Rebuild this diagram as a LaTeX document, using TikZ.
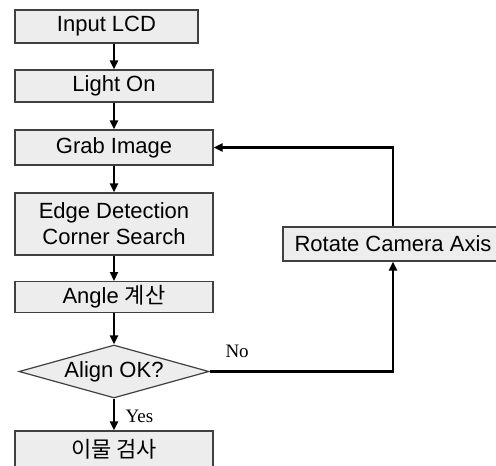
\documentclass[tikz,border=0pt]{standalone}
\usepackage{fontspec}
\setmainfont{Liberation Sans}
\newfontfamily\korfont{Noto Sans CJK KR}
\newfontfamily\yesnofont{Liberation Serif}
\usetikzlibrary{positioning, arrows.meta, shapes.geometric}

\begin{document}
\begin{tikzpicture}[
		x=0.5pt, y=-0.5pt,
		box/.style={draw=black!75,line width=0.6pt,fill=black!7,inner sep=2pt,
			minimum width=99pt,align=center,font=\fontsize{11}{13}\selectfont},
		decision/.style={diamond,draw=black!75,line width=0.6pt,fill=black!7,inner sep=0pt,
			shape aspect=3.6,minimum width=95pt,minimum height=26.5pt,font=\fontsize{11}{13}\selectfont},
		flow/.style={line width=1pt,-{Triangle[length=4.5pt,width=4pt]}},
		loop line/.style={line width=1.3pt,-{Triangle[length=4.5pt,width=4pt]}},
		answer/.style={font=\yesnofont\fontsize{9.5}{11}\selectfont}
		]
		\useasboundingbox (0,0) rectangle (496,465);
		
		% Main column
		\node[box,minimum width=91.5pt,minimum height=16.5pt] (input) at (106.5,26.5) {Input LCD};
		\node[box,minimum height=16pt] (light) at (114,86) {Light On};
		\node[box,minimum height=17.5pt] (grab) at (114,147.5) {Grab Image};
		\node[box,minimum height=31pt] (edge) at (114,224) {Edge Detection\\Corner Search};
		\node[box,minimum height=14pt] (angle) at (114,297) {Angle {\korfont 계산}};
		\node[decision] (align) at (114,371.5) {Align OK?};
		\node[box,minimum height=18pt] (check) at (114,449) {\korfont 이물 검사};
		
		% Side branch
		\node[box,minimum width=110pt,minimum height=17pt] (rotate) at (393,244) {Rotate Camera Axis};
		
		% Arrows down
		\draw[flow] (light.north |- input.south) -- (light.north);
		\draw[flow] (light) -- (grab);
		\draw[flow] (grab) -- (edge);
		\draw[flow] (edge) -- (angle);
		\draw[flow] (angle) -- (align);
		\draw[flow] (align) -- node[answer,right=2pt,pos=0.55] {Yes} (check);
		
		% Loop back
		\draw[loop line] (align.east) -| node[answer,above=3pt,pos=0.075] {No} (rotate.south);
		\draw[loop line] (rotate.north) |- (grab.east);
		
	\end{tikzpicture}
\end{document}
